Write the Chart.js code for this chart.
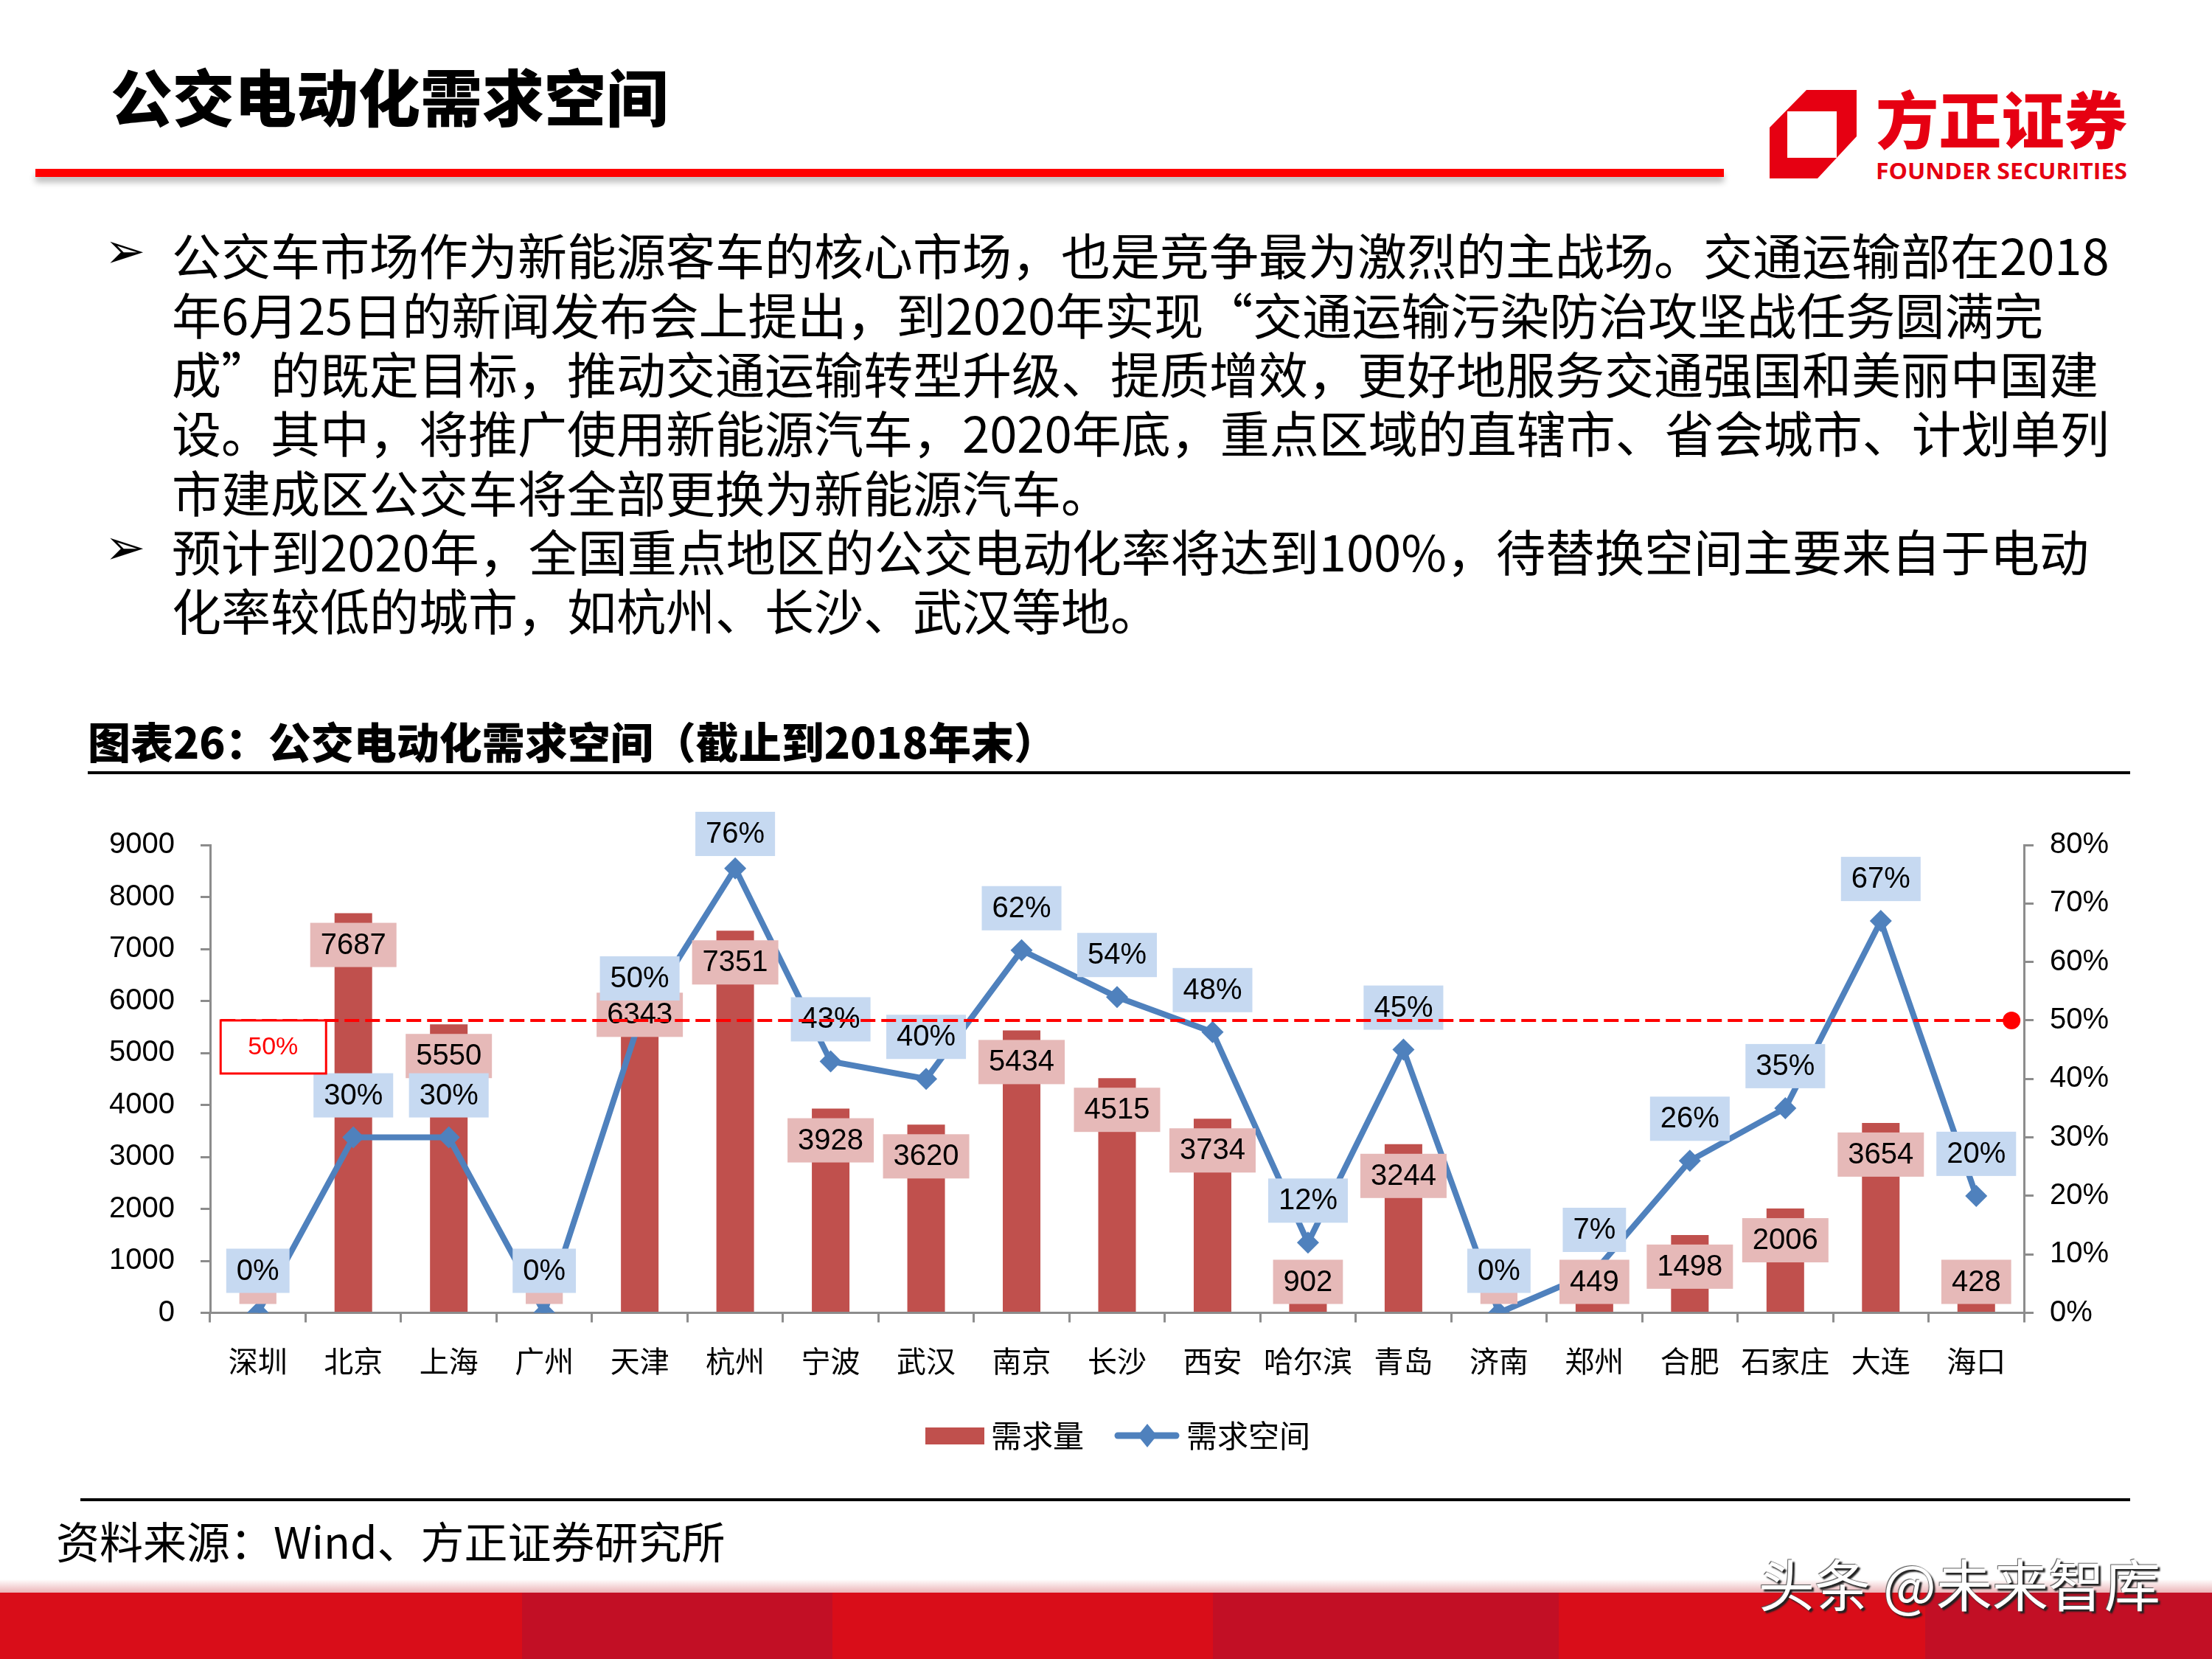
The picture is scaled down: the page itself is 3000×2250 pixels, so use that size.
<!DOCTYPE html>
<html lang="zh-CN">
<head>
<meta charset="UTF-8">
<title>公交电动化需求空间</title>
<script src="https://cdn.jsdelivr.net/npm/chart.js"></script>
<style>
    html, body {
        margin: 0;
        padding: 0;
    }

    body {
        width: 3000px;
        height: 2250px;
        position: relative;
        overflow: hidden;
        background: #fff;
        color: #000;
        font-family: "Noto Sans CJK SC", sans-serif;
    }

    .abs { position: absolute; white-space: nowrap; }

    #title { left: 150px; top: 79px; font-size: 84px; line-height: 100px; font-weight: 900; }
    #redbar { left: 48px; top: 229px; width: 2290px; height: 11px; background: #f00; box-shadow: 0 7px 8px rgba(0,0,0,0.28); }
    #logo { left: 2395px; top: 110px; }

    .txt { left: 233px; font-size: 67px; line-height: 80px; }
    .arrow { left: 142px; font-size: 66px; line-height: 80px; font-family: "DejaVu Sans", sans-serif; }

    #chartTitle { left: 119px; top: 969px; font-size: 58px; line-height: 70px; font-weight: 900; }
    #rule1 { left: 119px; top: 1046px; width: 2770px; height: 4px; background: #000; }
    #chartBox { left: 60px; top: 1080px; width: 2860px; height: 920px; }
    #rule2 { left: 109px; top: 2032px; width: 2780px; height: 4px; background: #000; }
    #source { left: 76px; top: 2054px; font-size: 59px; line-height: 70px; }

    #shade { left: 0; top: 2142px; width: 3000px; height: 18px; background: linear-gradient(to bottom, rgba(255,255,255,0), rgba(200,40,50,0.35)); }
    #footer {
        left: 0; top: 2160px; width: 3000px; height: 90px;
        background: linear-gradient(to right,
            #d90d19 0 708px, #c20f25 708px 1129px, #d90d19 1129px 1645px,
            #c20f25 1645px 2114px, #d90d19 2114px 2611px, #c20f25 2611px 3000px);
    }
    #wm { left: 2385px; top: 2101px; font-size: 76px; line-height: 90px; color: #fff; text-shadow: 3px 3px 2px #222, -1px -1px 1px #555; }
</style>
</head>
<body>
    <div class="abs" id="title">公交电动化需求空间</div>
    <div class="abs" id="redbar"></div>

    <svg class="abs" id="logo" width="500" height="150" viewBox="0 0 500 150">
        <path fill="#e60012" fill-rule="evenodd"
              d="M55 12 L123 12 L123 75 L70 132 L5 132 L5 63 Z M29 41 L96 41 L96 104 L29 104 Z"/>
        <text x="149" y="85" font-family="Noto Sans CJK SC" font-weight="900" font-size="84"
              fill="#e60012" textLength="341" lengthAdjust="spacingAndGlyphs">方正证券</text>
        <text x="149" y="133" font-family="Open Sans" font-weight="700" font-size="31"
              fill="#e60012" textLength="341" lengthAdjust="spacingAndGlyphs">FOUNDER SECURITIES</text>
    </svg>

    <div class="abs arrow" style="top:301px">➢</div>
    <div class="abs txt" style="top:304px">公交车市场作为新能源客车的核心市场，也是竞争最为激烈的主战场。交通运输部在2018</div>
    <div class="abs txt" style="top:385px">年6月25日的新闻发布会上提出，到2020年实现“交通运输污染防治攻坚战任务圆满完</div>
    <div class="abs txt" style="top:465px">成”的既定目标，推动交通运输转型升级、提质增效，更好地服务交通强国和美丽中国建</div>
    <div class="abs txt" style="top:545px">设。其中，将推广使用新能源汽车，2020年底，重点区域的直辖市、省会城市、计划单列</div>
    <div class="abs txt" style="top:626px">市建成区公交车将全部更换为新能源汽车。</div>
    <div class="abs arrow" style="top:703px">➢</div>
    <div class="abs txt" style="top:706px">预计到2020年，全国重点地区的公交电动化率将达到100%，待替换空间主要来自于电动</div>
    <div class="abs txt" style="top:786px">化率较低的城市，如杭州、长沙、武汉等地。</div>

    <div class="abs" id="chartTitle">图表26：公交电动化需求空间（截止到2018年末）</div>
    <div class="abs" id="rule1"></div>

    <div class="abs" id="chartBox"><canvas id="chart"></canvas></div>

    <div class="abs" id="rule2"></div>
    <div class="abs" id="source">资料来源：Wind、方正证券研究所</div>

    <div class="abs" id="shade"></div>
    <div class="abs" id="footer"></div>
    <div class="abs" id="wm">头条 @未来智库</div>

<script>
    // data
    const cities = ['深圳', '北京', '上海', '广州', '天津', '杭州', '宁波', '武汉', '南京', '长沙',
                    '西安', '哈尔滨', '青岛', '济南', '郑州', '合肥', '石家庄', '大连', '海口'];
    const demand = [0, 7687, 5550, 0, 6343, 7351, 3928, 3620, 5434, 4515,
                    3734, 902, 3244, 0, 449, 1498, 2006, 3654, 428];
    const spaceRate = [0, 30, 30, 0, 50, 76, 43, 40, 62, 54,
                       48, 12, 45, 0, 7, 26, 35, 67, 20];
    // 50% reference line (x in category units, y in %)
    const targetX = [-0.39, 18.37];
    const targetY = [50, 50];
    const leftMax = 9000, leftStep = 1000;
    const rightMax = 80, rightStep = 10;

    const numFont = '"Liberation Sans", "Noto Sans CJK SC", sans-serif';
    Chart.defaults.font.family = numFont;
    Chart.defaults.color = '#000';

    const barColor = '#C0504D';
    const lineColor = '#4F81BD';
    const axisColor = '#8c8c8c';

    function makeIcon(kind) {
        const c = document.createElement('canvas');
        c.width = 112;
        c.height = 36;
        const g = c.getContext('2d');
        if (kind === 'bar') {
            g.fillStyle = barColor;
            g.fillRect(32, 7, 80, 23);
        } else {
            g.strokeStyle = lineColor;
            g.lineWidth = 9;
            g.lineCap = 'round';
            g.beginPath();
            g.moveTo(28, 18);
            g.lineTo(107, 18);
            g.stroke();
            g.fillStyle = lineColor;
            g.beginPath();
            g.moveTo(68, 2);
            g.lineTo(81, 18);
            g.lineTo(68, 34);
            g.lineTo(55, 18);
            g.closePath();
            g.fill();
        }
        return c;
    }
    const barIcon = makeIcon('bar');
    const lineIcon = makeIcon('line');

    const boxLabels = {
        id: 'boxLabels',
        afterDatasetDraw(chart, args) {
            if (args.index !== 1) return;
            const ctx = chart.ctx;
            const area = chart.chartArea;
            const base = chart.scales.y.getPixelForValue(0);
            const h = 60;
            ctx.save();
            ctx.font = '40px ' + numFont;
            ctx.textAlign = 'center';
            ctx.textBaseline = 'middle';

            chart.getDatasetMeta(0).data.forEach((bar, i) => {
                const txt = String(demand[i]);
                const w = ctx.measureText(txt).width + 28;
                let top = bar.y + 13;
                if (top + h > base - 12) top = base - 12 - h;
                ctx.fillStyle = '#E6B9B8';
                ctx.fillRect(bar.x - w / 2, top, w, h);
                ctx.fillStyle = '#000';
                ctx.fillText(txt, bar.x, top + h / 2 + 1);
            });

            chart.getDatasetMeta(1).data.forEach((pt, i) => {
                const txt = spaceRate[i] + '%';
                const w = ctx.measureText(txt).width + 28;
                let top = pt.y - 27 - h;
                if (top < area.top - 45) top = area.top - 45;
                ctx.fillStyle = '#C6D9F1';
                ctx.fillRect(pt.x - w / 2, top, w, h);
                ctx.fillStyle = '#000';
                ctx.fillText(txt, pt.x, top + h / 2 + 1);
            });
            ctx.restore();
        },
        afterDatasetsDraw(chart) {
            const p = chart.getDatasetMeta(2).data[0];
            const ctx = chart.ctx;
            ctx.save();
            ctx.fillStyle = '#fff';
            ctx.fillRect(p.x, p.y, 143, 72);
            ctx.strokeStyle = '#f00';
            ctx.lineWidth = 3;
            ctx.strokeRect(p.x, p.y, 143, 72);
            ctx.fillStyle = '#f00';
            ctx.font = '34px ' + numFont;
            ctx.textAlign = 'center';
            ctx.textBaseline = 'middle';
            ctx.fillText(targetY[0] + '%', p.x + 71, p.y + 37);
            ctx.restore();
        }
    };

    new Chart(document.getElementById('chart'), {
        type: 'bar',
        data: {
            labels: cities,
            datasets: [{
                type: 'bar',
                label: '需求量',
                data: demand,
                backgroundColor: barColor,
                grouped: false,
                barPercentage: 0.394,
                categoryPercentage: 1.0,
                xAxisID: 'x',
                yAxisID: 'y',
                order: 3
            }, {
                type: 'line',
                label: '需求空间',
                data: spaceRate,
                borderColor: lineColor,
                borderWidth: 8,
                pointStyle: 'rectRot',
                pointRadius: 15,
                pointBackgroundColor: lineColor,
                pointBorderWidth: 0,
                tension: 0,
                xAxisID: 'x',
                yAxisID: 'y2',
                order: 2
            }, {
                type: 'line',
                label: '50%',
                data: targetX.map((x, i) => ({ x: x, y: targetY[i] })),
                borderColor: '#f00',
                borderWidth: 4,
                borderDash: [20, 8],
                pointRadius: [0, 12],
                pointBackgroundColor: '#f00',
                pointBorderWidth: 0,
                xAxisID: 'xt',
                yAxisID: 'y2',
                order: 1
            }]
        },
        options: {
            responsive: true,
            maintainAspectRatio: false,
            animation: false,
            layout: { padding: { top: 66, bottom: 22, left: 32, right: 0 } },
            scales: {
                x: {
                    type: 'category',
                    offset: true,
                    afterFit(s) { s.height = 115.5; },
                    grid: { offset: true, drawOnChartArea: false, tickLength: 13, color: axisColor, lineWidth: 3 },
                    border: { color: axisColor, width: 3 },
                    ticks: { autoSkip: false, maxRotation: 0, padding: 32, font: { size: 40 } }
                },
                xt: {
                    type: 'linear',
                    display: false,
                    offset: false,
                    grid: { offset: false },
                    min: -0.5,
                    max: cities.length - 0.5
                },
                y: {
                    position: 'left',
                    min: 0,
                    max: leftMax,
                    afterFit(s) { s.width = 193; },
                    grid: { drawOnChartArea: false, tickLength: 13, color: axisColor, lineWidth: 3 },
                    border: { color: axisColor, width: 3 },
                    ticks: { stepSize: leftStep, padding: 35, font: { size: 40 }, callback: v => String(v) }
                },
                y2: {
                    position: 'right',
                    min: 0,
                    max: rightMax,
                    afterFit(s) { s.width = 175; },
                    grid: { drawOnChartArea: false, tickLength: 13, color: axisColor, lineWidth: 3 },
                    border: { color: axisColor, width: 3 },
                    ticks: { stepSize: rightStep, padding: 22, font: { size: 40 }, callback: v => v + '%' }
                }
            },
            plugins: {
                tooltip: { enabled: false },
                legend: {
                    position: 'bottom',
                    labels: {
                        usePointStyle: true,
                        pointStyleWidth: 88,
                        padding: 30,
                        font: { size: 42, family: '"Noto Sans CJK SC", sans-serif' },
                        generateLabels: () => [
                            { text: '需求量', pointStyle: barIcon, datasetIndex: 0, fillStyle: barColor, strokeStyle: barColor, lineWidth: 0 },
                            { text: '需求空间', pointStyle: lineIcon, datasetIndex: 1, fillStyle: lineColor, strokeStyle: lineColor, lineWidth: 0 }
                        ]
                    }
                }
            }
        },
        plugins: [boxLabels]
    });
</script>
</body>
</html>
